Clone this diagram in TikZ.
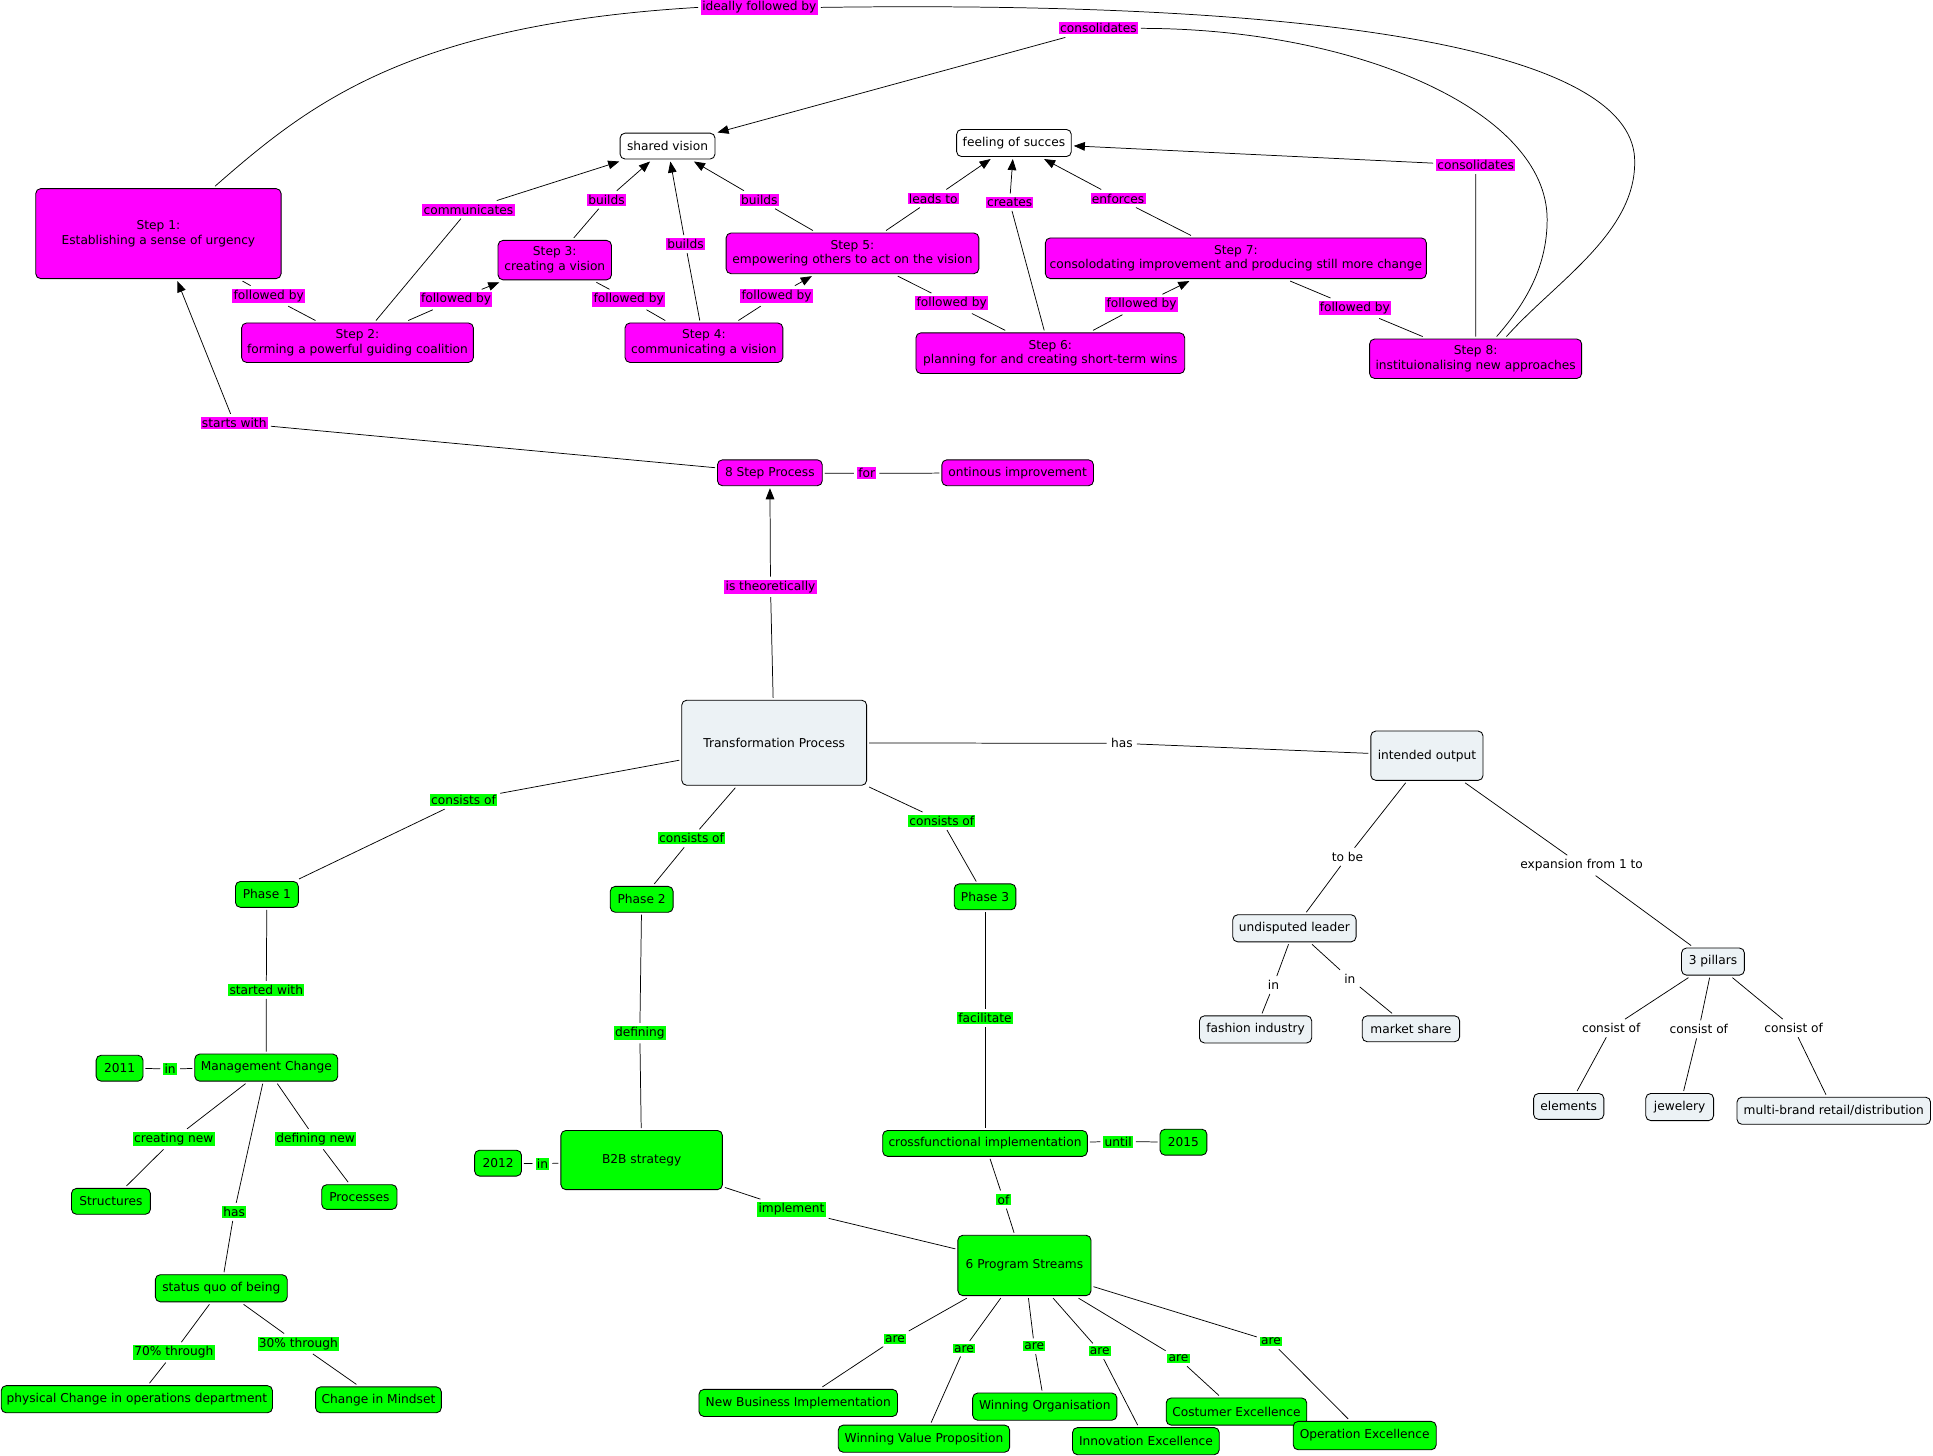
\documentclass[tikz,border=0pt]{standalone}
\usepackage{fontspec}
\setmainfont{DejaVu Sans}
\usetikzlibrary{arrows.meta}
\definecolor{mag}{RGB}{255,0,255}
\definecolor{grn}{RGB}{0,255,0}
\definecolor{pale}{RGB}{236,242,245}
\begin{document}
\begin{tikzpicture}[x=1pt,y=-1pt,
  every node/.style={font=\fontsize{9.9}{12}\selectfont},
  concept/.style={draw, rounded corners=4pt, line width=0.7pt, align=center, inner sep=1pt, outer sep=2pt},
  sz/.style 2 args={minimum width=#1, minimum height=#2},
  mnode/.style={concept, fill=mag},
  gnode/.style={concept, fill=grn},
  pnode/.style={concept, fill=pale},
  wnode/.style={concept, fill=white},
  lbl/.style={inner sep=1pt, outer sep=2.5pt},
  mlbl/.style={lbl, fill=mag},
  glbl/.style={lbl, fill=grn},
  wlbl/.style={lbl, fill=white},
  link/.style={line width=0.6pt},
  arr/.style={link, -{Triangle[length=9pt,width=7pt]}},
]
\useasboundingbox (0,0) rectangle (1568,1181);

% ---------- 8 step process (magenta) ----------
\node[wnode, sz={77pt}{21pt}] (sv) at (541.5,118.5) {shared vision};
\node[wnode, sz={93pt}{22pt}] (fs) at (822.5,116) {feeling of succes};
\node[mnode, sz={199pt}{73pt}] (s1) at (128.5,189.5) {Step 1:\\Establishing a sense of urgency};
\node[mnode, sz={188pt}{32pt}] (s2) at (290,278) {Step 2:\\forming a powerful guiding coalition};
\node[mnode, sz={92pt}{32pt}] (s3) at (450,211) {Step 3:\\creating a vision};
\node[mnode, sz={128pt}{32pt}] (s4) at (571,278) {Step 4:\\communicating a vision};
\node[mnode, sz={205pt}{33pt}] (s5) at (691.5,205.5) {Step 5:\\empowering others to act on the vision};
\node[mnode, sz={218pt}{33pt}] (s6) at (852,286.5) {Step 6:\\planning for and creating short-term wins};
\node[mnode, sz={309pt}{33pt}] (s7) at (1002.5,209.5) {Step 7:\\consolodating improvement and producing still more change};
\node[mnode, sz={172pt}{32pt}] (s8) at (1197,291) {Step 8:\\instituionalising new approaches};
\node[mnode, sz={85pt}{21pt}] (esp) at (624.5,383.5) {8 Step Process};
\node[mnode, sz={123pt}{21pt}] (oi) at (825.5,383.5) {ontinous improvement};

\node[mlbl] (ideal) at (616,6) {ideally followed by};
\node[mlbl] (cons1) at (891,23) {consolidates};
\node[mlbl] (comm) at (380,170) {communicates};
\node[mlbl] (b3) at (492,162) {builds};
\node[mlbl] (b4) at (556,198) {builds};
\node[mlbl] (b5) at (616,162) {builds};
\node[mlbl] (f12) at (218,240) {followed by};
\node[mlbl] (f23) at (370,243) {followed by};
\node[mlbl] (f34) at (510,243) {followed by};
\node[mlbl] (f45) at (630,240) {followed by};
\node[mlbl] (f56) at (772,246) {followed by};
\node[mlbl] (f67) at (926,247) {followed by};
\node[mlbl] (f78) at (1099,250) {followed by};
\node[mlbl] (lead) at (757,161) {leads to};
\node[mlbl] (crea) at (819,164) {creates};
\node[mlbl] (enf) at (907,161) {enforces};
\node[mlbl] (cons2) at (1197,134) {consolidates};
\node[mlbl] (start) at (190,343) {starts with};
\node[mlbl] (for) at (703,384) {for};
\node[mlbl] (theo) at (625,476) {is theoretically};

\draw[link] (s1) -- (f12) -- (s2);
\draw[arr] (s2) -- (f23) -- (s3);
\draw[link] (s3) -- (f34) -- (s4);
\draw[arr] (s4) -- (f45) -- (s5);
\draw[link] (s5) -- (f56) -- (s6);
\draw[arr] (s6) -- (f67) -- (s7);
\draw[link] (s7) -- (f78) -- (s8);
\draw[arr] (s2) -- (comm) -- (sv);
\draw[arr] (s3) -- (b3) -- (sv);
\draw[arr] (s4) -- (b4) -- (sv);
\draw[arr] (s5) -- (b5) -- (sv);
\draw[arr] (s5) -- (lead) -- (fs);
\draw[arr] (s6) -- (crea) -- (fs);
\draw[arr] (s7) -- (enf) -- (fs);
\draw[arr] (s8) -- (cons2) -- (fs);
\draw[arr] (cons1) -- (sv);
\draw[link] ([xshift=17pt]s8.north) .. controls (1234,250) and (1255,220) .. (1255,178)
  .. controls (1255,90) and (1100,23) .. (cons1.east);
\draw[link] ([xshift=46pt]s1.north) .. controls (250,85) and (330,20) .. (ideal.west);
\draw[link] (ideal.east) .. controls (1100,0) and (1328,45) .. (1326,132)
  .. controls (1326,190) and (1260,230) .. ([xshift=25pt]s8.north);
\draw[arr] (esp) -- (start) -- (s1);
\draw[link] (esp) -- (for) -- (oi);

% ---------- transformation process ----------
\node[pnode, sz={150pt}{69pt}] (tp) at (628,602.5) {Transformation Process};
\node[pnode, sz={91pt}{40pt}] (io) at (1157.5,613) {intended output};
\node[pnode, sz={100pt}{22pt}] (ul) at (1050,753) {undisputed leader};
\node[pnode, sz={91pt}{22pt}] (fi) at (1018.5,835) {fashion industry};
\node[pnode, sz={79pt}{21pt}] (ms) at (1144.5,834.5) {market share};
\node[pnode, sz={51pt}{22pt}] (pil) at (1389.5,780) {3 pillars};
\node[pnode, sz={57pt}{21pt}] (el) at (1272.5,897.5) {elements};
\node[pnode, sz={55pt}{22pt}] (jw) at (1362.5,898) {jewelery};
\node[pnode, sz={157pt}{22pt}] (mb) at (1487.5,901) {multi-brand retail/distribution};

\node[wlbl] (has) at (910,603) {has};
\node[wlbl] (tobe) at (1093,695) {to be};
\node[wlbl] (exp) at (1283,702) {expansion from 1 to};
\node[wlbl] (in1) at (1033,799) {in};
\node[wlbl] (in2) at (1095,794) {in};
\node[wlbl] (co1) at (1307,834) {consist of};
\node[wlbl] (co2) at (1378,835) {consist of};
\node[wlbl] (co3) at (1455,834) {consist of};

\draw[arr] (tp) -- (theo) -- (esp);
\draw[link] (tp) -- (has) -- (io);
\draw[link] (io) -- (tobe) -- (ul);
\draw[link] (io) -- (exp) -- (pil);
\draw[link] (ul) -- (in1) -- (fi);
\draw[link] (ul) -- (in2) -- (ms);
\draw[link] (pil) -- (co1) -- (el);
\draw[link] (pil) -- (co2) -- (jw);
\draw[link] (pil) -- (co3) -- (mb);

% ---------- phases (green) ----------
\node[gnode, sz={51pt}{21pt}] (p1) at (216.5,725.5) {Phase 1};
\node[gnode, sz={51pt}{21pt}] (p2) at (520.5,729.5) {Phase 2};
\node[gnode, sz={50pt}{21pt}] (p3) at (799,727.5) {Phase 3};
\node[gnode, sz={116pt}{22pt}] (mc) at (216,866) {Management Change};
\node[gnode, sz={38pt}{21pt}] (y11) at (97,866.5) {2011};
\node[gnode, sz={64pt}{21pt}] (st) at (90,974.5) {Structures};
\node[gnode, sz={61pt}{20pt}] (pr) at (291.5,971) {Processes};
\node[gnode, sz={107pt}{22pt}] (sq) at (179.5,1045) {status quo of being};
\node[gnode, sz={220pt}{22pt}] (pc) at (111,1135) {physical Change in operations department};
\node[gnode, sz={102pt}{21pt}] (cm) at (307,1135.5) {Change in Mindset};
\node[gnode, sz={131pt}{48pt}] (b2b) at (520.5,941) {B2B strategy};
\node[gnode, sz={38pt}{21pt}] (y12) at (404,943.5) {2012};
\node[gnode, sz={166pt}{21pt}] (ci) at (799,927.5) {crossfunctional implementation};
\node[gnode, sz={38pt}{21pt}] (y15) at (960,926.5) {2015};
\node[gnode, sz={108pt}{49pt}] (ps) at (831,1026.5) {6 Program Streams};
\node[gnode, sz={161pt}{22pt}] (nbi) at (647.5,1138) {New Business Implementation};
\node[gnode, sz={139pt}{22pt}] (wvp) at (749.5,1167) {Winning Value Proposition};
\node[gnode, sz={117pt}{22pt}] (wo) at (847.5,1141) {Winning Organisation};
\node[gnode, sz={119pt}{22pt}] (ie) at (929.5,1169) {Innovation Excellence};
\node[gnode, sz={114pt}{22pt}] (ce) at (1003,1145) {Costumer Excellence};
\node[gnode, sz={116pt}{23pt}] (oe) at (1107,1164.5) {Operation Excellence};

\node[glbl] (c1) at (376,649) {consists of};
\node[glbl] (c2) at (561,680) {consists of};
\node[glbl] (c3) at (764,666) {consists of};
\node[glbl] (sw) at (216,803) {started with};
\node[glbl] (in11) at (138,867) {in};
\node[glbl] (cn) at (141,924) {creating new};
\node[glbl] (dn) at (256,924) {defining new};
\node[glbl] (has2) at (190,983) {has};
\node[glbl] (p70) at (141,1097) {70\% through};
\node[glbl] (p30) at (242,1090) {30\% through};
\node[glbl] (def) at (519,838) {defining};
\node[glbl] (in12) at (440,944) {in};
\node[glbl] (impl) at (642,981) {implement};
\node[glbl] (fac) at (799,826) {facilitate};
\node[glbl] (until) at (907,926) {until};
\node[glbl] (of) at (814,973) {of};
\node[glbl] (a1) at (726,1086) {are};
\node[glbl] (a2) at (782,1094) {are};
\node[glbl] (a3) at (839,1092) {are};
\node[glbl] (a4) at (892,1096) {are};
\node[glbl] (a5) at (956,1102) {are};
\node[glbl] (a6) at (1031,1088) {are};

\draw[link] (tp) -- (c1) -- (p1);
\draw[link] (tp) -- (c2) -- (p2);
\draw[link] (tp) -- (c3) -- (p3);
\draw[link] (p1) -- (sw) -- (mc);
\draw[link] (y11) -- (in11) -- (mc);
\draw[link] (mc) -- (cn) -- (st);
\draw[link] (mc) -- (dn) -- (pr);
\draw[link] (mc) -- (has2) -- (sq);
\draw[link] (sq) -- (p70) -- (pc);
\draw[link] (sq) -- (p30) -- (cm);
\draw[link] (p2) -- (def) -- (b2b);
\draw[link] (y12) -- (in12) -- (b2b);
\draw[link] (b2b) -- (impl) -- (ps);
\draw[link] (p3) -- (fac) -- (ci);
\draw[link] (ci) -- (until) -- (y15);
\draw[link] (ci) -- (of) -- (ps);
\draw[link] (ps) -- (a1) -- (nbi);
\draw[link] (ps) -- (a2) -- (wvp);
\draw[link] (ps) -- (a3) -- (wo);
\draw[link] (ps) -- (a4) -- (ie);
\draw[link] (ps) -- (a5) -- (ce);
\draw[link] (ps) -- (a6) -- (oe);
\end{tikzpicture}
\end{document}
